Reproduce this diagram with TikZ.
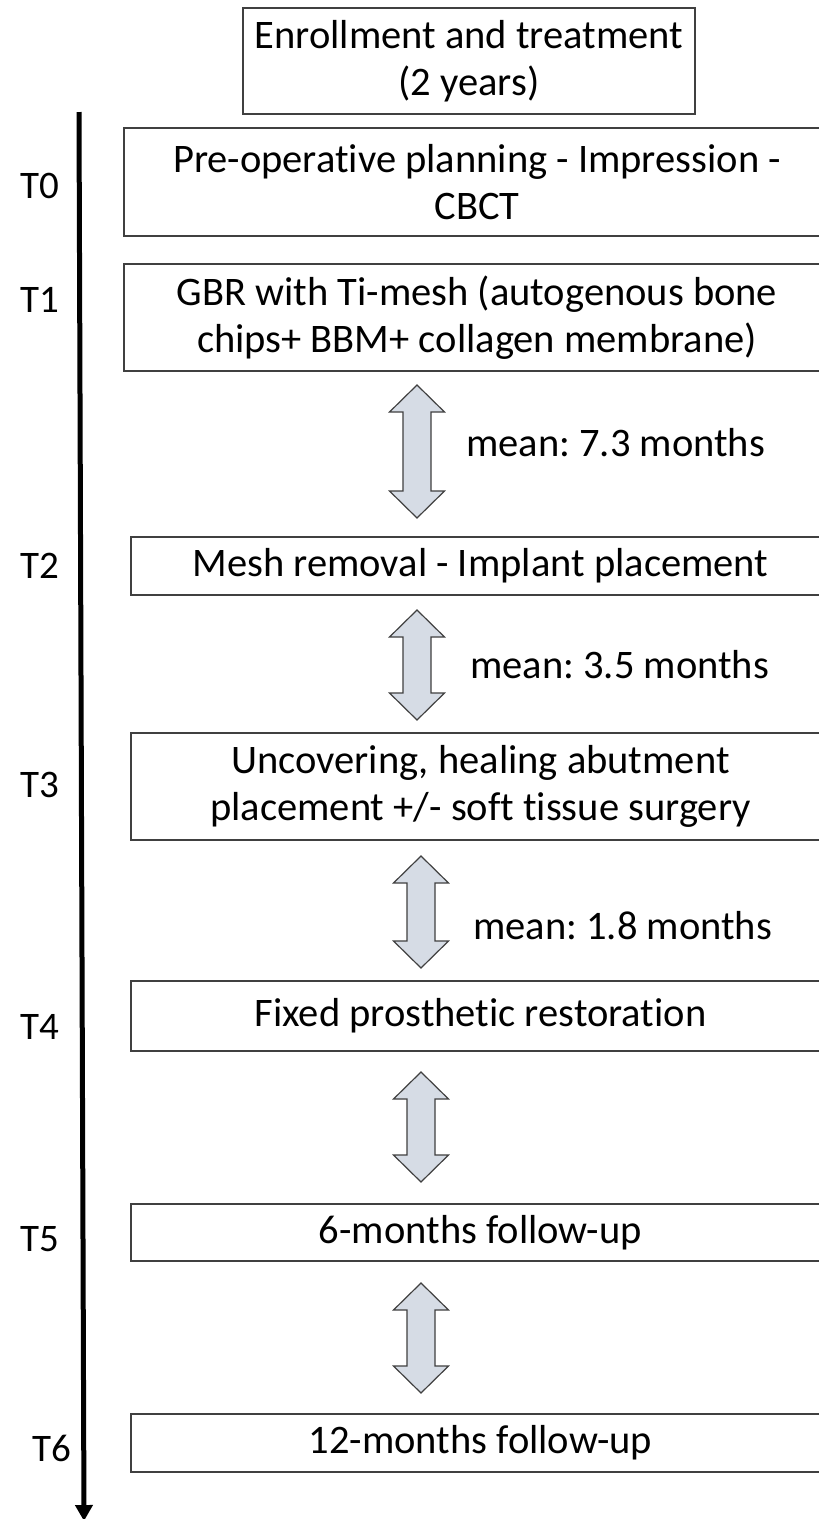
\documentclass[tikz,border=0pt]{standalone}
\usepackage{fontspec}
\setmainfont{Carlito}[Ligatures={NoCommon}]
\usetikzlibrary{arrows.meta}
\frenchspacing
\definecolor{boxline}{HTML}{404040}
\definecolor{arrfill}{HTML}{D6DCE5}
\tikzset{
  stepbox/.style={draw=boxline, line width=1.4pt, align=center, inner sep=0pt,
    font=\fontsize{40.5}{47}\selectfont},
  tlabel/.style={font=\fontsize{39}{47}\selectfont, inner sep=0pt},
  meantext/.style={font=\fontsize{40.5}{47}\selectfont, inner sep=0pt, anchor=west},
  dbl/.style={draw=boxline, fill=arrfill, line width=1.2pt, line join=miter}
}
\newcommand{\mydblarrow}[3]{% cx, ytop, ybot
  \draw[dbl] (#1,#2) -- ++(27.5,27) -- ++(-13.5,0) -- (#1+14,#3-27) -- ++(13.5,0)
    -- (#1,#3) -- ++(-27.5,-27) -- ++(13.5,0) -- (#1-14,#2+27) -- ++(-13.5,0) -- cycle;}
\begin{document}
\begin{tikzpicture}[x=1pt,y=-1pt]
\useasboundingbox (0,0) rectangle (819,1519);
\clip (0,0) rectangle (819,1519);
\fill[white] (0,0) rectangle (819,1519);
% top box
\node[stepbox, minimum width=452pt, minimum height=106pt] (top) at (469,61)
  {Enrollment and treatment\\(2 years)};
% timeline
\coordinate (tlstart) at (79,112);
\coordinate (tlend) at (84,1521);
\draw[line width=5pt, -{Triangle[width=17pt,length=16pt]}] (tlstart) -- (tlend);
% steps
\node[stepbox, minimum width=706pt, minimum height=108pt] (t0) at (477,182)
  {Pre-operative planning - Impression -\\CBCT};
\node[stepbox, minimum width=706pt, minimum height=107pt] (t1) at (477,317.5)
  {GBR with Ti-mesh (autogenous bone\\chips+ BBM+ collagen membrane)};
\node[stepbox, minimum width=699pt, minimum height=58pt] (t2) at (480.5,566)
  {Mesh removal - Implant placement};
\node[stepbox, minimum width=699pt, minimum height=107pt] (t3) at (480.5,786.5)
  {Uncovering, healing abutment\\placement +/- soft tissue surgery};
\node[stepbox, minimum width=699pt, minimum height=70pt] (t4) at (480.5,1016)
  {Fixed prosthetic restoration};
\node[stepbox, minimum width=699pt, minimum height=57pt] (t5) at (480.5,1232.5)
  {6-months follow-up};
\node[stepbox, minimum width=699pt, minimum height=58pt] (t6) at (480.5,1443)
  {12-months follow-up};
% labels
\node[tlabel] (l0) at (40,186) {T0};
\node[tlabel] (l1) at (40,300) {T1};
\node[tlabel] (l2) at (40,566) {T2};
\node[tlabel] (l3) at (40,785) {T3};
\node[tlabel] (l4) at (40,1027) {T4};
\node[tlabel] (l5) at (40,1239) {T5};
\node[tlabel] (l6) at (52,1448) {T6};
% double arrows
\mydblarrow{417}{385}{518}
\mydblarrow{417}{610}{720}
\mydblarrow{421}{856}{968}
\mydblarrow{421}{1072}{1182}
\mydblarrow{421}{1283}{1393}
% mean texts
\node[meantext] (m1) at (466,443) {mean: 7.3 months};
\node[meantext] (m2) at (470,665) {mean: 3.5 months};
\node[meantext] (m3) at (473,926) {mean: 1.8 months};
\end{tikzpicture}
\end{document}
